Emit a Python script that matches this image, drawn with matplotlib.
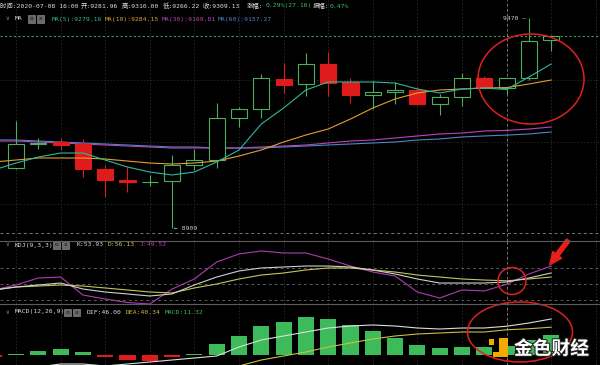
import numpy as np
import matplotlib
matplotlib.use('Agg')
import matplotlib.pyplot as plt
from matplotlib.patches import Rectangle, Ellipse
from matplotlib.lines import Line2D
import matplotlib.patheffects as pe

#########################################################################################################################################

## chart data

# candles, index 0..24
opens  = [9069, 9134, 9139, 9134, 9067, 9037, 9031, 9035, 9077, 9091, 9203, 9227, 9308,
          9294, 9347, 9299, 9264, 9272, 9278, 9240, 9259, 9310, 9281.96, 9309, 9410]
highs  = [9195, 9150, 9150, 9147, 9077, 9072, 9051, 9104, 9120, 9243, 9232, 9320, 9350,
          9377, 9379, 9310, 9302, 9299, 9286, 9267, 9323, 9316, 9310.00, 9470, 9424]
lows   = [9066, 9120, 9117, 9045, 8992, 9005, 9021, 8909, 9064, 9069, 9179, 9203, 9270,
          9262, 9262, 9243, 9227, 9240, 9237, 9211, 9235, 9280, 9266.22, 9305, 9382]
closes = [9134, 9136, 9131, 9067, 9037, 9032, 9033, 9077, 9090, 9203, 9227, 9310, 9291,
          9347, 9296, 9264, 9272, 9278, 9240, 9259, 9310, 9282, 9309.13, 9409, 9422]

# indicator lines, index -1..24 (first point runs off the left edge)
ma5  = [9064.0, 9082.7, 9098.7, 9109.4, 9109.4, 9090.7, 9072.0, 9058.7, 9050.7, 9058.7, 9085.4, 9117.4, 9186.9,
        9229.6, 9277.7, 9299.1, 9299.1, 9299.1, 9296.4, 9280.4, 9269.7, 9280.4, 9283.1, 9279.16, 9312.4, 9347.1]
ma10 = [9085.4, 9090.7, 9096.1, 9096.1, 9096.1, 9093.4, 9088.0, 9082.7, 9080.0, 9082.7, 9088.0, 9101.4, 9117.4,
        9138.8, 9157.5, 9173.5, 9200.2, 9229.6, 9253.7, 9269.7, 9277.7, 9280.4, 9283.1, 9284.15, 9293.7, 9304.4]
ma30 = [9141.5, 9141.5, 9138.8, 9136.2, 9133.5, 9130.8, 9128.1, 9125.5, 9122.8, 9122.8, 9122.8, 9122.8, 9125.5,
        9128.1, 9130.8, 9136.2, 9141.5, 9144.2, 9149.5, 9154.9, 9160.2, 9162.8, 9168.2, 9169.81, 9173.5, 9178.9]
ma60 = [9144.2, 9144.2, 9141.5, 9138.8, 9136.2, 9133.5, 9130.8, 9128.1, 9125.5, 9125.5, 9122.8, 9122.8, 9122.8,
        9125.5, 9128.1, 9130.8, 9133.5, 9136.2, 9138.8, 9144.2, 9146.9, 9152.2, 9154.9, 9157.27, 9160.2, 9165.5]

k_vals = [38.4, 44.2, 48.1, 51.9, 40.3, 34.5, 30.7, 26.8, 30.7, 48.1, 63.5, 75.2, 81.0,
          82.9, 84.8, 84.8, 82.9, 77.1, 69.4, 59.7, 51.9, 51.9, 51.9, 53.93, 61.6, 71.3]
d_vals = [38.4, 44.2, 46.1, 48.1, 46.1, 42.3, 38.4, 34.5, 32.6, 42.3, 50.0, 59.7, 67.4,
          71.3, 77.1, 81.0, 81.0, 77.1, 73.2, 67.4, 63.5, 59.7, 57.7, 56.13, 59.7, 63.5]
j_vals = [38.4, 48.1, 61.6, 63.5, 28.7, 21.0, 14.2, 11.3, 40.3, 59.7, 92.6, 108.1, 113.9,
          110.0, 110.0, 98.4, 84.8, 73.2, 65.5, 34.5, 22.9, 38.4, 36.5, 49.52, 69.4, 84.8]

dif  = [-27.2, -24.0, -19.2, -14.4, -14.4, -17.6, -24.0, -28.8, -27.2, -17.6, -1.6, 12.8, 24.0,
        30.4, 36.8, 43.2, 46.4, 48.0, 46.4, 43.2, 41.6, 43.2, 43.2, 46.00, 51.2, 57.6]
dea  = [-30.4, -28.8, -25.6, -22.4, -19.2, -19.2, -20.8, -22.4, -25.6, -27.2, -22.4, -17.6, -8.0,
        -1.6, 4.8, 12.8, 19.2, 25.6, 30.4, 33.6, 35.2, 36.8, 36.8, 40.34, 42.0, 44.5]
macd_hist = [-3.2, 1.6, 6.4, 9.6, 4.8, -3.2, -8.0, -9.6, -3.2, 1.6, 17.6, 30.4, 46.4,
             52.8, 60.8, 57.6, 48.0, 38.4, 27.2, 16.0, 11.2, 12.8, 12.8, 14.0, 24.0, 32.0]

# header texts
info_labels = ['时间:2020-07-08 16:00', '开:9281.96', '高:9310.00', '低:9266.22', '收:9309.13', '涨幅:', '振幅:']
info_values = ['', '', '', '', '', '0.29%(27.16)', '0.47%']
ma_labels = ['MA(5):9279.16', 'MA(10):9284.15', 'MA(30):9169.81', 'MA(60):9157.27']
kdj_labels = ['K:53.93', 'D:56.13', 'J:49.52']
macd_labels = ['DIF:46.00', 'DEA:40.34', 'MACD:11.32']

#########################################################################################################################################

## styling

green = '#4dae5c'
bar_green = '#3dbb5a'
red = '#e01b1b'
c_ma5, c_ma10, c_ma30, c_ma60 = '#2fb8a0', '#e0a030', '#b845b8', '#4a86c8'
c_k, c_d, c_j = '#cfcfcf', '#c8c45a', '#b03cb0'
c_dif, c_dea = '#dddddd', '#c8c040'
mono = ['DejaVu Sans Mono', 'Noto Sans CJK SC']
fs = 4.6

W, H = 600, 365
def fx(px):
    return px / W
def fy(py):
    return 1 - py / H

n = len(opens)
xc = np.arange(n)
xl = np.arange(-1, n)
xlim = (-0.717, 26.19)
bw = 0.72

fig = plt.figure(figsize=(6, 3.65), dpi=100, facecolor='black')
ax1 = fig.add_axes([0, fy(241), 1, 241 / H])
ax2 = fig.add_axes([0, fy(304), 1, 63 / H])
ax3 = fig.add_axes([0, 0, 1, 61 / H])
for ax in (ax1, ax2, ax3):
    ax.set_facecolor('black')
    ax.axis('off')
    ax.set_xlim(*xlim)
    for g in range(0, 27, 2):
        ax.axvline(g, color='#2a2a2a', lw=0.6, ls=(0, (2, 2)), zorder=0)
    ax.axvline(22, color='#8a8a8a', lw=0.6, ls=(0, (3, 3)), zorder=1)

## main panel
ax1.set_ylim(8874.4, 9518.1)
for lvl in [9304, 9139, 8973]:
    ax1.axhline(lvl, color='#262626', lw=0.6, ls=(0, (2, 2)), zorder=0)
ax1.axhline(8895.7, color='#777777', lw=0.7, ls=(0, (3, 3)), zorder=1)
ax1.axhline(closes[-1], color='#3c9a5a', lw=0.8, ls=(0, (2, 2)), zorder=1)

for i in range(n):
    o, h, l, c = opens[i], highs[i], lows[i], closes[i]
    up = c >= o
    col = green if up else red
    top, bot = max(o, c), min(o, c)
    bh = max(top - bot, 2.0)
    ax1.vlines(i, top, h, color=col, lw=0.8, zorder=3)
    ax1.vlines(i, l, bot, color=col, lw=0.8, zorder=3)
    ax1.add_patch(Rectangle((i - bw / 2, bot), bw, bh, facecolor='black' if up else col,
                            edgecolor=col, lw=0.8, zorder=4))

ax1.plot(xl, ma60, color=c_ma60, lw=0.8, zorder=2)
ax1.plot(xl, ma30, color=c_ma30, lw=0.8, zorder=2)
ax1.plot(xl, ma10, color=c_ma10, lw=0.8, zorder=5)
ax1.plot(xl, ma5, color=c_ma5, lw=0.8, zorder=5)

hi = int(np.argmax(highs))
lo = int(np.argmin(lows))
ax1.text(hi - 0.1, highs[hi], '%d —' % highs[hi], ha='right', va='center', fontsize=fs,
         color='#cccccc', family=mono)
ax1.text(lo + 0.1, lows[lo], '← %d' % lows[lo], ha='left', va='center', fontsize=fs,
         color='#cccccc', family=mono)

## KDJ panel
ax2.set_ylim(11.3, 133.2)
for lvl in [80, 50, 20]:
    ax2.axhline(lvl, color='#5a5a5a', lw=0.7, ls=(0, (3, 3)), zorder=1)
ax2.plot(xl, j_vals, color=c_j, lw=0.8, zorder=3)
ax2.plot(xl, d_vals, color=c_d, lw=0.8, zorder=3)
ax2.plot(xl, k_vals, color=c_k, lw=0.8, zorder=3)

## MACD panel
ax3.set_ylim(-16, 81.6)
hist_cols = [bar_green if v >= 0 else red for v in macd_hist]
ax3.bar(xl, macd_hist, width=bw, color=hist_cols, zorder=2)
ax3.plot(xl, dea, color=c_dea, lw=0.8, zorder=3)
ax3.plot(xl, dif, color=c_dif, lw=0.8, zorder=3)

## separators
for py in [241, 304]:
    fig.add_artist(Line2D([0, 1], [fy(py), fy(py)], color='#5c5c5c', lw=0.8))

## header texts
info_x = [0, 81, 122, 163, 203, 247, 313]
val_x = [0, 0, 0, 0, 0, 266, 330]
for lab, val, x0, x1 in zip(info_labels, info_values, info_x, val_x):
    fig.text(fx(x0), fy(6), lab, color='#dddddd', fontsize=fs, family=mono, va='center')
    if val:
        fig.text(fx(x1), fy(6), val, color='#3cc060', fontsize=fs, family=mono, va='center')

def panel_header(py, name, icon_x, labels, label_x, colors):
    fig.text(fx(5), fy(py), '∨', color='#888888', fontsize=4.5, family=mono, va='center')
    fig.text(fx(15), fy(py), name, color='#dddddd', fontsize=fs, family=mono, va='center')
    for k, sym in enumerate(['o', 'x']):
        x0 = icon_x + k * 9
        fig.add_artist(Rectangle((fx(x0), fy(py + 3.5)), 7 / W, 7 / H, transform=fig.transFigure,
                                 facecolor='#6a6a6a', edgecolor='#999999', lw=0.4))
        fig.text(fx(x0 + 3.5), fy(py), sym, color='#111111', fontsize=4.5, family=mono,
                 ha='center', va='center')
    for lab, x0, col in zip(labels, label_x, colors):
        fig.text(fx(x0), fy(py), lab, color=col, fontsize=fs, family=mono, va='center')

panel_header(19, 'MA', 28, ma_labels, [52, 105, 162, 218], [c_ma5, c_ma10, c_ma30, c_ma60])
panel_header(245, 'KDJ(9,3,3)', 53, kdj_labels, [77, 108, 140], [c_k, c_d, c_j])
panel_header(312, 'MACD(12,26,9)', 64, macd_labels, [87, 126, 165], [c_dif, c_dea, bar_green])

## red marks drawn on the screenshot
for cx, cy, ew, eh in [(531, 79, 106, 90), (512, 281, 28, 27), (520, 332, 105, 60)]:
    fig.add_artist(Ellipse((fx(cx), fy(cy)), ew / W, eh / H, transform=fig.transFigure,
                           fill=False, edgecolor='#e02020', lw=1.1))
ax2.annotate('', xy=(548, H - 267), xycoords='figure pixels', xytext=(570, H - 238),
             textcoords='figure pixels', annotation_clip=False,
             arrowprops=dict(arrowstyle='simple,head_length=0.9,head_width=0.8,tail_width=0.3',
                             fc='#e8201a', ec='#e8201a'))

## watermark logo
for (x0, y0, w0, h0) in [(489, 339, 5, 6), (499, 338, 9, 19), (493, 352, 15, 5)]:
    fig.add_artist(Rectangle((fx(x0), fy(y0 + h0)), w0 / W, h0 / H, transform=fig.transFigure,
                             facecolor='#f2a900', edgecolor='none'))
fig.text(fx(514), fy(349), '金色财经', color='white', fontsize=13.5, family=['Noto Sans CJK SC', 'DejaVu Sans'],
         va='center', fontweight='bold',
         path_effects=[pe.withStroke(linewidth=1.5, foreground='#222222')])

fig.savefig('out.png', dpi=100, facecolor='black')
